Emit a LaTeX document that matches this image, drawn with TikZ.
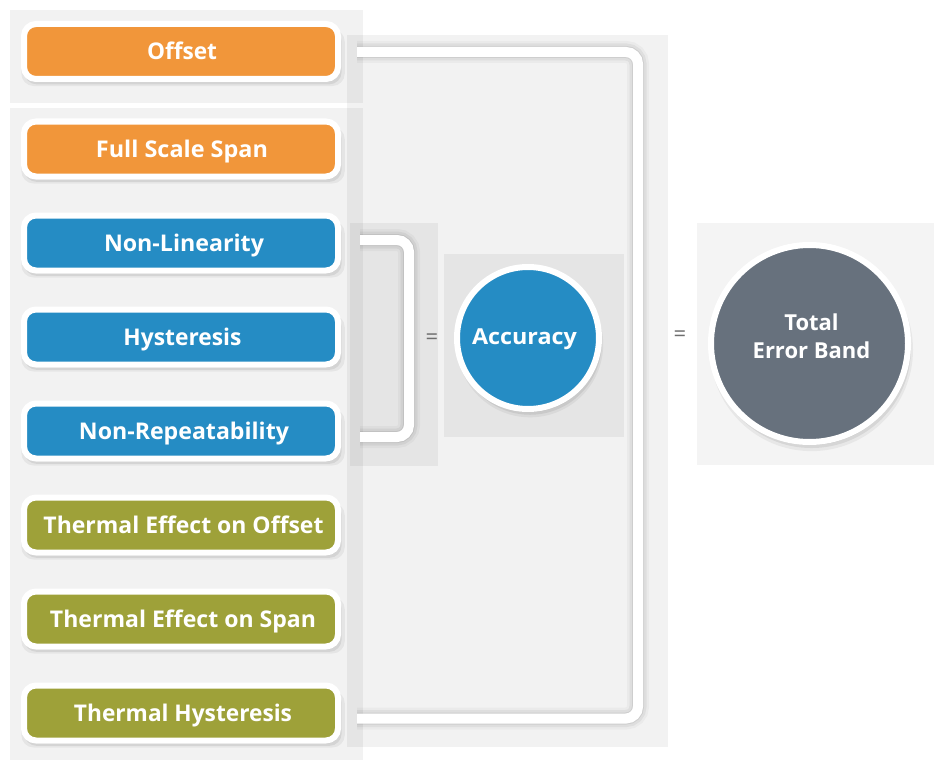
\documentclass[tikz,border=0pt]{standalone}
\usepackage{graphicx}
\usepackage{fontspec}
\setmainfont{Open Sans}
\usetikzlibrary{shadows}
\definecolor{cOrange}{RGB}{241,150,58}
\definecolor{cBlue}{RGB}{37,140,196}
\definecolor{cOlive}{RGB}{158,161,57}
\definecolor{cSlate}{RGB}{103,113,125}
\definecolor{cEq}{RGB}{110,110,110}
\newcommand{\fitw}[2]{\resizebox{#1}{\height}{#2}}
\begin{document}
\begin{tikzpicture}[x=1pt,y=-1pt,
  panel/.style={fill=black, fill opacity=0.05},
  softshadow/.style={
    general shadow={shadow xshift=2pt, shadow yshift=-6pt, shadow scale=1.03, fill=black, opacity=0.05},
    general shadow={shadow xshift=2pt, shadow yshift=-5pt, shadow scale=1.01, fill=black, opacity=0.07},
    general shadow={shadow xshift=1pt, shadow yshift=-3pt, fill=black, opacity=0.08}},
  pill/.style={draw=white, line width=6pt, rounded corners=12pt, minimum width=314pt,
    minimum height=55pt, inner sep=0pt, text=white, text height=16.4pt, text depth=0pt,
    font=\bfseries\fontsize{23}{26}\selectfont, softshadow},
  disc/.style={circle, draw=white, line width=6pt, inner sep=0pt, softshadow},
  lbl/.style={text=white, font=\bfseries\fontsize{22}{28}\selectfont, align=center, inner sep=0pt},
  eqsign/.style={text=cEq, font=\fontsize{22}{22}\selectfont, inner sep=0pt},
  bracket/.style={draw=white, line width=10pt, rounded corners=12pt},
  brshadow/.style={draw=black, rounded corners=12pt}
]
\useasboundingbox (0,0) rectangle (938,760);
\fill[white] (0,0) rectangle (938,760);

% background panels
\fill[panel] (10,10) rectangle (363,103);
\fill[panel] (10,108) rectangle (363,760);
\fill[panel] (347,35) rectangle (668,747);
\fill[panel] (350,223) rectangle (438,466);
\fill[panel] (444,254) rectangle (624,437);
\fill[black, fill opacity=0.045] (697,223) rectangle (934,465);

% big bracket
\coordinate (bA) at (357,52);
\coordinate (bB) at (638,52);
\coordinate (bC) at (638,718.5);
\coordinate (bD) at (357,718.5);
\foreach \w/\o in {22/0.03,17/0.05,12/0.07}{
  \draw[brshadow, line width=\w pt, draw opacity=\o, shift={(3,7)}] (bA) -- (bB) -- (bC) -- (bD);
}
\draw[bracket] (bA) -- (bB) -- (bC) -- (bD);

% small bracket
\coordinate (sA) at (360,240);
\coordinate (sB) at (409,240);
\coordinate (sC) at (409,437);
\coordinate (sD) at (360,437);
\foreach \w/\o in {22/0.03,17/0.05,12/0.07}{
  \draw[brshadow, line width=\w pt, draw opacity=\o, shift={(3,7)}] (sA) -- (sB) -- (sC) -- (sD);
}
\draw[bracket] (sA) -- (sB) -- (sC) -- (sD);

% factor boxes
\node[pill, fill=cOrange] (off) at (181,51.5) {\hspace{2pt}\fitw{70pt}{Offset}};
\node[pill, fill=cOrange] (fss) at (181,149) {\hspace{2pt}\fitw{172pt}{Full Scale Span}};
\node[pill, fill=cBlue] (nl) at (181,243) {\hspace{6pt}\fitw{160pt}{Non-Linearity}};
\node[pill, fill=cBlue] (hy) at (181,337) {\hspace{3pt}\fitw{118pt}{Hysteresis}};
\node[pill, fill=cBlue] (nr) at (181,431) {\hspace{6pt}\fitw{210pt}{Non-Repeatability}};
\node[pill, fill=cOlive] (teo) at (181,525) {\hspace{5pt}\fitw{280pt}{Thermal Effect on Offset}};
\node[pill, fill=cOlive] (tes) at (181,619) {\hspace{4pt}\fitw{266pt}{Thermal Effect on Span}};
\node[pill, fill=cOlive] (th) at (181,713) {\hspace{4pt}\fitw{218pt}{Thermal Hysteresis}};

% equals signs
\node[eqsign] (eq1) at (432,339.5) {=};
\node[eqsign] (eq2) at (680,336) {=};

% result circles
\node[disc, fill=cBlue, minimum size=142pt] (acc) at (528,338) {};
\node[lbl, text height=15.7pt, text depth=0pt] (acct) at (524.5,337) {\fitw{105pt}{Accuracy}};
\node[disc, fill=cSlate, minimum size=197pt] (teb) at (809.5,343.5) {};
\node[lbl] (tebt) at (811.5,336.5) {Total\\Error Band};
\end{tikzpicture}
\end{document}
